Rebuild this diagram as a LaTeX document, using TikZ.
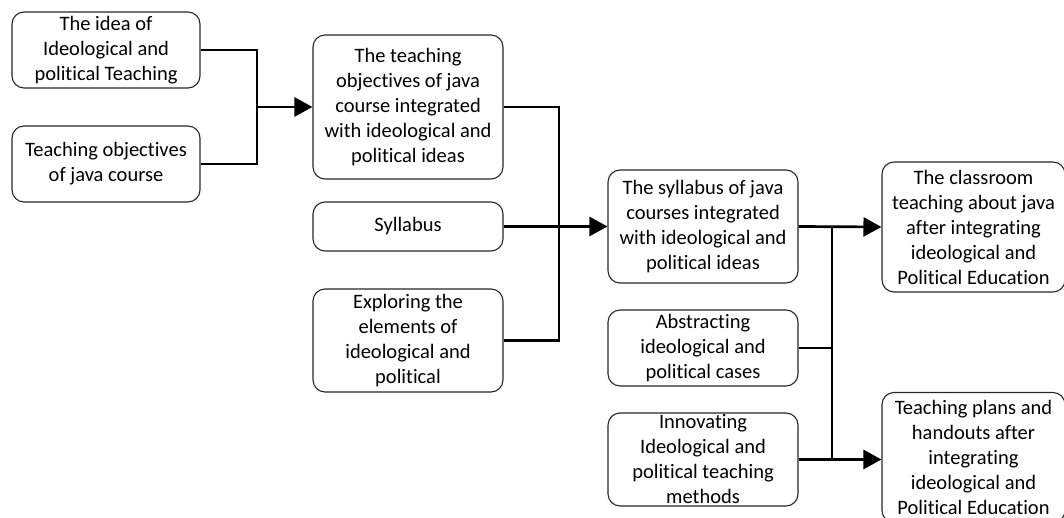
\documentclass[tikz,border=0pt]{standalone}
\usepackage{fontspec}
\setmainfont[Ligatures={NoCommon}]{Carlito}
\usetikzlibrary{arrows.meta}
\tikzset{
  box/.style={draw=black!85, line width=1.1pt, rounded corners=12pt, inner sep=0pt,
    align=center, font=\fontsize{20.5}{25}\selectfont},
  conn/.style={line width=2.7pt, black},
  arr/.style={conn, -{Triangle[length=18pt,width=19pt]}}
}
\begin{document}
\begin{tikzpicture}[x=1pt,y=-1pt]
\useasboundingbox (0,0) rectangle (1064,518);
\clip (0,0) rectangle (1064,518);
% left column
\node[box, minimum width=188pt, minimum height=76pt] (A) at (106,50) {The idea of\\Ideological and\\political Teaching};
\node[box, minimum width=188pt, minimum height=76pt] (B) at (106,164) {Teaching objectives\\of java course};
% second column
\node[box, minimum width=190pt, minimum height=144pt] (C) at (408,107) {The teaching\\objectives of java\\course integrated\\with ideological and\\political ideas};
\node[box, minimum width=190pt, minimum height=49pt] (D) at (408,226.5) {Syllabus};
\node[box, minimum width=190pt, minimum height=103pt] (E) at (408,340.5) {Exploring the\\elements of\\ideological and\\political};
% third column
\node[box, minimum width=190pt, minimum height=113pt] (F) at (703,226.5) {The syllabus of java\\courses integrated\\with ideological and\\political ideas};
\node[box, minimum width=190pt, minimum height=76pt] (G) at (703,348) {Abstracting\\ideological and\\political cases};
\node[box, minimum width=190pt, minimum height=93pt] (H) at (703,459.5) {Innovating\\Ideological and\\political teaching\\methods};
% right column
\node[box, minimum width=183pt, minimum height=130pt] (I) at (973.5,227) {The classroom\\teaching about java\\after integrating\\ideological and\\Political Education};
\node[box, minimum width=183pt, minimum height=130pt] (J) at (973.5,457.5) {Teaching plans and\\handouts after\\integrating\\ideological and\\Political Education};
% junctions
\coordinate (j1) at (257,107);
\coordinate (j2) at (559,226.5);
\coordinate (j3) at (832,226.5);
\coordinate (j4) at (832,459.5);
% connectors
\draw[conn] (A.east) -| (j1) |- (B.east);
\draw[arr] (j1) -- (C.west);
\draw[conn] (C.east) -| (j2) |- (E.east);
\draw[arr] (D.east) -- (F.west);
\draw[arr] (F.east) -- (I.west);
\draw[conn] (j3) -- (j4);
\draw[conn] (G.east) -- (G.east -| j3);
\draw[arr] (H.east) -- (H.east -| J.west);
\end{tikzpicture}
\end{document}
